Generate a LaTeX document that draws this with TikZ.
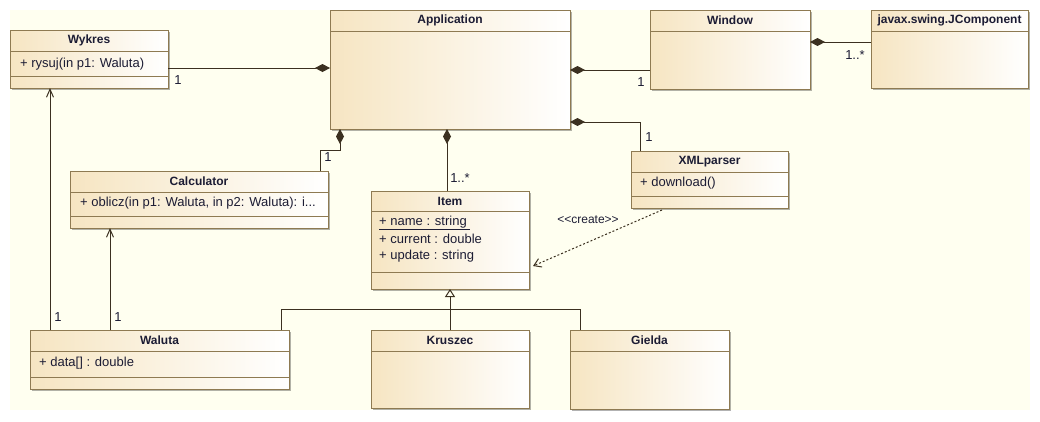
\documentclass[tikz,border=0pt]{standalone}
\usepackage{fontspec}
\setmainfont{Liberation Sans}
\usetikzlibrary{arrows.meta,shadows}
\definecolor{canvas}{HTML}{FFFFF0}
\definecolor{classtan}{HTML}{F6E5C2}
\definecolor{rim}{HTML}{8E7A52}
\definecolor{wire}{HTML}{3B3020}
\definecolor{ink}{HTML}{1C1C34}
\tikzset{
	cls/.style={draw=rim, line width=1pt, left color=classtan, right color=white, anchor=north west, inner sep=0pt, outer sep=0pt, drop shadow={shadow xshift=1.5pt, shadow yshift=-1.5pt, fill=black, opacity=.3}},
	divider/.style={draw=rim, line width=1pt},
	title/.style={font=\fontsize{12}{14}\selectfont\bfseries, text=ink, inner sep=0pt},
	member/.style={font=\fontsize{13}{15}\selectfont, text=ink, inner sep=0pt, anchor=west},
	mult/.style={font=\fontsize{13}{15}\selectfont, text=ink, inner sep=0pt},
	wire/.style={draw=wire, line width=1pt},
	composite/.style={-{Diamond[length=15pt,width=8pt]}},
	depend/.style={-{Straight Barb[length=8pt,width=7pt]}},
	inherit/.style={-{Triangle[open,length=8pt,width=10pt]}},
	create/.style={dash pattern=on 2pt off 2pt, -{Straight Barb[length=7pt,width=9pt]}}
}
\begin{document}
\begin{tikzpicture}[x=1pt,y=-1pt]
		\useasboundingbox (0,0) rectangle (1040,421);
		\fill[canvas] (10,10) rectangle (1030,410);
		% classes
		\node[cls, minimum width=158pt, minimum height=58pt] (wykres) at (10,30) {};
		\node[cls, minimum width=240pt, minimum height=119pt] (app) at (330,10) {};
		\node[cls, minimum width=160pt, minimum height=79pt] (window) at (650,10) {};
		\node[cls, minimum width=157pt, minimum height=78pt] (jcomp) at (871,10) {};
		\node[cls, minimum width=258pt, minimum height=57pt] (calc) at (70,171) {};
		\node[cls, minimum width=158pt, minimum height=98pt] (item) at (371,191) {};
		\node[cls, minimum width=157pt, minimum height=57pt] (xml) at (631,151) {};
		\node[cls, minimum width=259pt, minimum height=59pt] (waluta) at (30,330) {};
		\node[cls, minimum width=158pt, minimum height=78pt] (kruszec) at (371,330) {};
		\node[cls, minimum width=159pt, minimum height=79pt] (gielda) at (570,330) {};
		% compartments
		\draw[divider] ([yshift=-21pt]wykres.north west) -- ([yshift=-21pt]wykres.north east);
		\draw[divider] ([yshift=-46pt]wykres.north west) -- ([yshift=-46pt]wykres.north east);
		\draw[divider] ([yshift=-21pt]app.north west) -- ([yshift=-21pt]app.north east);
		\draw[divider] ([yshift=-21pt]window.north west) -- ([yshift=-21pt]window.north east);
		\draw[divider] ([yshift=-21pt]jcomp.north west) -- ([yshift=-21pt]jcomp.north east);
		\draw[divider] ([yshift=-21pt]calc.north west) -- ([yshift=-21pt]calc.north east);
		\draw[divider] ([yshift=-45pt]calc.north west) -- ([yshift=-45pt]calc.north east);
		\draw[divider] ([yshift=-20pt]item.north west) -- ([yshift=-20pt]item.north east);
		\draw[divider] ([yshift=-81pt]item.north west) -- ([yshift=-81pt]item.north east);
		\draw[divider] ([yshift=-21pt]xml.north west) -- ([yshift=-21pt]xml.north east);
		\draw[divider] ([yshift=-45pt]xml.north west) -- ([yshift=-45pt]xml.north east);
		\draw[divider] ([yshift=-21pt]waluta.north west) -- ([yshift=-21pt]waluta.north east);
		\draw[divider] ([yshift=-47pt]waluta.north west) -- ([yshift=-47pt]waluta.north east);
		\draw[divider] ([yshift=-21pt]kruszec.north west) -- ([yshift=-21pt]kruszec.north east);
		\draw[divider] ([yshift=-21pt]gielda.north west) -- ([yshift=-21pt]gielda.north east);
		% names
		\node[title] (wykres-t) at ([yshift=-10.5pt]wykres.north) {Wykres};
		\node[title] (app-t) at ([yshift=-10.5pt]app.north) {Application};
		\node[title] (window-t) at ([yshift=-10.5pt]window.north) {Window};
		\node[title] (jcomp-t) at ([yshift=-10.5pt]jcomp.north) {javax.swing.JComponent};
		\node[title] (calc-t) at ([yshift=-10.5pt]calc.north) {Calculator};
		\node[title] (item-t) at ([yshift=-10pt]item.north) {Item};
		\node[title] (xml-t) at ([yshift=-10.5pt]xml.north) {XMLparser};
		\node[title] (waluta-t) at ([yshift=-10.5pt]waluta.north) {Waluta};
		\node[title] (kruszec-t) at ([yshift=-10.5pt]kruszec.north) {Kruszec};
		\node[title] (gielda-t) at ([yshift=-10.5pt]gielda.north) {Gielda};
		% members
		\node[member] (wykres-m) at (20,64) {+ rysuj(in p1: Waluta)};
		\node[member] (calc-m) at (80,203) {+ oblicz(in p1: Waluta, in p2: Waluta): i...};
		\node[member] (item-a) at (379,223) {\underline{+ name : string\ }};
		\node[member] (item-b) at (379,239) {+ current : double};
		\node[member] (item-c) at (379,256) {+ update : string};
		\node[member] (xml-m) at (640,183) {+ download()};
		\node[member] (waluta-m) at (39,363) {+ data[] : double};
		% compositions
		\coordinate (wk-r) at ([yshift=-38pt]wykres.north east);
		\coordinate (win-l) at ([yshift=-60pt]window.north west);
		\coordinate (jc-l) at ([yshift=-32pt]jcomp.north west);
		\coordinate (xml-up) at ([xshift=9pt]xml.north west);
		\coordinate (app-r) at ([yshift=7pt]app.south east);
		\coordinate (calc-up) at ([xshift=-8pt]calc.north east);
		\coordinate (app-b) at ([xshift=10pt]app.south west);
		\coordinate (item-up) at ([xshift=-3pt]item.north);
		\draw[wire, composite] (wk-r) -- (wk-r -| app.west);
		\draw[wire, composite] (win-l) -- (win-l -| app.east);
		\draw[wire, composite] (jc-l) -- (jc-l -| window.east);
		\draw[wire, composite] (xml-up) |- (app-r);
		\draw[wire, composite] (calc-up) -- ++(0,-21) -| (app-b);
		\draw[wire, composite] (item-up) -- (item-up |- app.south);
		% dependencies
		\coordinate (wal-a) at ([xshift=20pt]waluta.north west);
		\coordinate (wal-b) at ([xshift=80pt]waluta.north west);
		\draw[wire, depend] (wal-a) -- (wal-a |- wykres.south);
		\draw[wire, depend] (wal-b) -- (wal-b |- calc.south);
		% generalisation
		\coordinate (wal-g) at ([xshift=-8pt]waluta.north east);
		\coordinate (gie-g) at ([xshift=10pt]gielda.north west);
		\draw[wire, inherit] (kruszec.north) -- (item.south);
		\draw[wire] (wal-g) -- ++(0,-21) -| (gie-g);
		% create
		\coordinate (xml-d) at ([xshift=31pt,yshift=-2pt]xml.south west);
		\coordinate (item-r) at ([xshift=4pt,yshift=-26pt]item.east);
		\draw[wire, create] (xml-d) -- (item-r);
		% multiplicities
		\node[mult] (wk-n) at (178,80) {1};
		\node[mult] (win-n) at (641,82) {1};
		\node[mult] (jc-n) at (855,55) {1..*};
		\node[mult] (xml-n) at (649,137) {1};
		\node[mult] (calc-n) at (328,157) {1};
		\node[mult] (item-n) at (460,178) {1..*};
		\node[mult] (wal-an) at (58,317) {1};
		\node[mult] (wal-bn) at (118,317) {1};
		\node[mult, font=\fontsize{12}{14}\selectfont] (create-l) at (588,220) {<\kern0pt<create>\kern0pt>};
\end{tikzpicture}
\end{document}
